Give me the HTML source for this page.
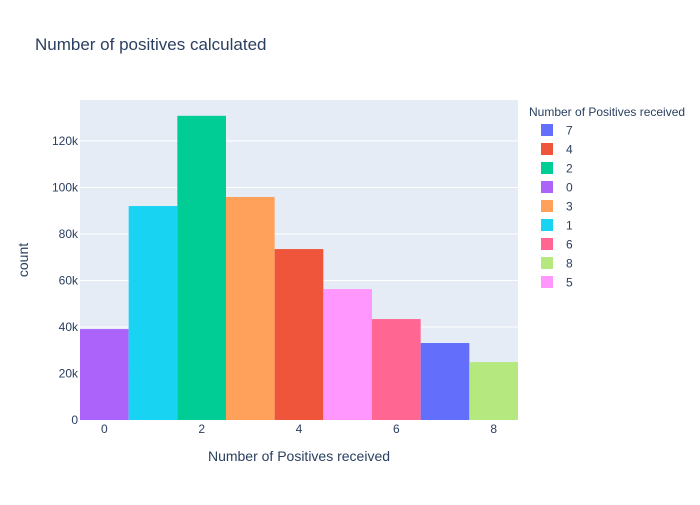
<!DOCTYPE html>
<html><head><meta charset="utf-8"><style>
body{margin:0;background:#fff;font-family:"Liberation Sans",Arial,sans-serif}
svg text{font-family:"Liberation Sans",Arial,sans-serif;fill:#2a3f5f}
</style></head><body>
<svg id="c" width="700" height="500" xmlns="http://www.w3.org/2000/svg">
<rect width="700" height="500" fill="#fff"/>
<text x="35" y="50" font-size="17">Number of positives calculated</text>
<rect x="80" y="100" width="438" height="320" fill="#e5ecf6"/>
<g id="grid"></g><g id="bars"></g><g id="ticks"></g><g id="legend"></g>
<text x="299" y="461" font-size="14" text-anchor="middle">Number of Positives received</text>
<text transform="translate(28,260) rotate(-90)" font-size="14" text-anchor="middle">count</text>
<text x="529" y="116" font-size="12">Number of Positives received</text>
</svg>
<script>
const categories=[0,1,2,3,4,5,6,7,8];
const counts=[39100,92000,130800,95900,73500,56300,43400,33100,24900];
const colors=["#ab63fa","#19d3f3","#00cc96","#FFA15A","#EF553B","#FF97FF","#FF6692","#636efa","#B6E880"];
const legendOrder=[7,4,2,0,3,1,6,8,5];
const yTicks=[0,20000,40000,60000,80000,100000,120000];
const yTickLabels=["0","20k","40k","60k","80k","100k","120k"];
const xTicks=[0,2,4,6,8];
const NS="http://www.w3.org/2000/svg";
const X0=80,X1=518,Y0=420,Y1=100,xmin=-0.5,xmax=8.5,ymax=137600;
const xs=v=>X0+(v-xmin)/(xmax-xmin)*(X1-X0);
const ys=v=>Y0-v/ymax*(Y0-Y1);
function mk(tag,attrs,parent){const e=document.createElementNS(NS,tag);for(const k in attrs)e.setAttribute(k,attrs[k]);document.getElementById(parent).appendChild(e);return e;}
yTicks.forEach((t,i)=>{
 if(t>0){const g=mk('line',{x1:X0,x2:X1,y1:ys(t),y2:ys(t),stroke:'#fff','stroke-width':1},'grid');
 
 }
 const l=mk('text',{x:X0-2,y:ys(t)+4,'font-size':12,'text-anchor':'end'},'ticks');l.textContent=yTickLabels[i];
 
 
});
xTicks.forEach(t=>{
 const l=mk('text',{x:xs(t),y:433,'font-size':12,'text-anchor':'middle'},'ticks');l.textContent=t;
 
 
});
categories.forEach((c,i)=>{
 const b=mk('rect',{x:xs(c-0.5),y:ys(counts[i]),width:xs(c+0.5)-xs(c-0.5),height:Y0-ys(counts[i]),fill:colors[i]},'bars');
 
 
});
legendOrder.forEach((c,i)=>{
 const y=130+i*19;
 const s=mk('rect',{x:541,y:y-6,width:12,height:12,fill:colors[categories.indexOf(c)]},'legend');
 
 
 const t=mk('text',{x:566,y:y+4.5,'font-size':12},'legend');t.textContent=c;
 
 
});
</script>
</body></html>
